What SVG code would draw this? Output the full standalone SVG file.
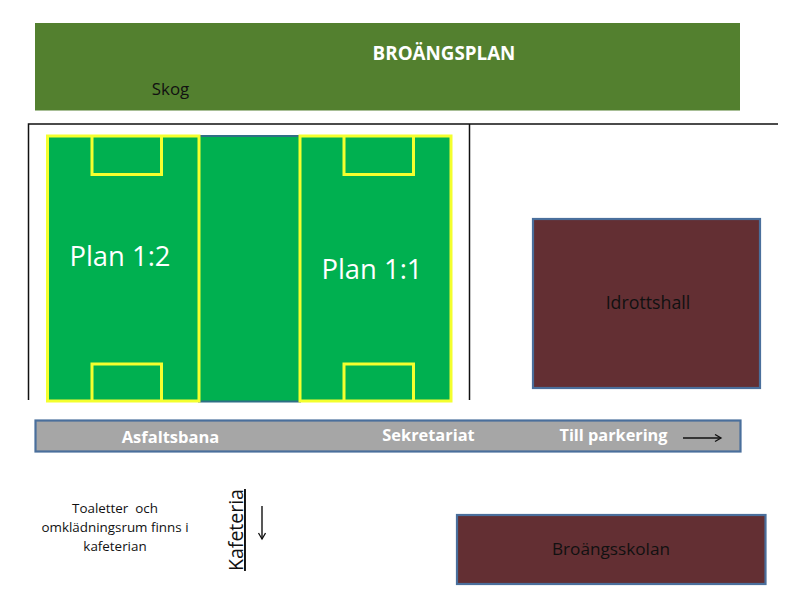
<svg xmlns="http://www.w3.org/2000/svg" width="800" height="600" viewBox="0 0 800 600">
<style>
text{font-family:"Open Sans","Noto Sans","Liberation Sans",sans-serif}
.line{fill:none;stroke:#111;stroke-width:1.5}
.field{fill:#00b050;stroke:#f4ff2e;stroke-width:3}
.box{fill:none;stroke:#f4ff2e;stroke-width:3}
.hall{fill:#632f33;stroke:#4a6f9c;stroke-width:2.2}
.w{fill:#fff;font-weight:700;text-anchor:middle}
.k{fill:#111;text-anchor:middle}
</style>
<defs>
<marker id="arr" markerWidth="10" markerHeight="10" refX="8" refY="4" orient="auto" markerUnits="userSpaceOnUse"><path d="M2 0.500L8 4L2 7.500" fill="none" stroke="#111" stroke-width="1.300"/></marker>
</defs>
<rect width="800" height="600" fill="#fff"/>
<g id="skog">
<rect x="35" y="23" width="705" height="87.500" fill="#53802f"/>
<text x="444" y="60" class="w" font-size="18.800">BROÄNGSPLAN</text>
<text x="170.500" y="95" class="k" font-size="16.900">Skog</text>
</g>
<g id="mitt">
<rect x="199" y="136" width="101" height="265.500" fill="#00b050" stroke="#2f6f85" stroke-width="2"/>
</g>
<g id="plan12">
<rect class="field" x="47.500" y="136" width="151.500" height="265"/>
<path class="box" d="M92 136V174.500H161.500V136M92 401V364H161.500V401"/>
<text x="120" y="266" font-size="27.400" fill="#fff" text-anchor="middle">Plan 1:2</text>
</g>
<g id="plan11">
<rect class="field" x="300" y="136" width="151" height="265"/>
<path class="box" d="M344 136V174.500H413.500V136M344 401V364H413.500V401"/>
<text x="372" y="279" font-size="27.400" fill="#fff" text-anchor="middle">Plan 1:1</text>
</g>
<g id="idrottshall">
<rect class="hall" x="533" y="219" width="227" height="169"/>
<text x="648" y="309" class="k" font-size="17.800">Idrottshall</text>
</g>
<g id="asfaltsbana">
<rect x="35.500" y="420.500" width="705" height="31" fill="#a6a6a6" stroke="#4a6f9c" stroke-width="2.200"/>
<text x="170.500" y="443" class="w" font-size="16.500">Asfaltsbana</text>
<text x="428.500" y="441" class="w" font-size="16.400">Sekretariat</text>
<text x="613.500" y="441" class="w" font-size="16.300">Till parkering</text>
</g>
<g id="toaletter">
<text class="k" font-size="13.400" fill="#222"><tspan x="115" y="513" xml:space="preserve">Toaletter  och</tspan><tspan x="115" y="532">omklädningsrum finns i</tspan><tspan x="115" y="551">kafeterian</tspan></text>
</g>
<g id="kafeteria">
<text class="k" font-size="19.500" transform="translate(243 530) rotate(-90)" text-decoration="underline">Kafeteria</text>
</g>
<g id="broangsskolan">
<rect class="hall" x="457" y="515" width="308.500" height="69"/>
<text x="611" y="555" class="k" font-size="17.200">Broängsskolan</text>
</g>
<g id="connectors">
<path class="line" d="M28.500 400V124H778"/>
<path class="line" d="M469.500 124V400"/>
<path d="M683 438H721" fill="none" stroke="#111" stroke-width="1.400" marker-end="url(#arr)"/>
<path d="M262 506V539" fill="none" stroke="#111" stroke-width="1.400" marker-end="url(#arr)"/>
</g>
</svg>
